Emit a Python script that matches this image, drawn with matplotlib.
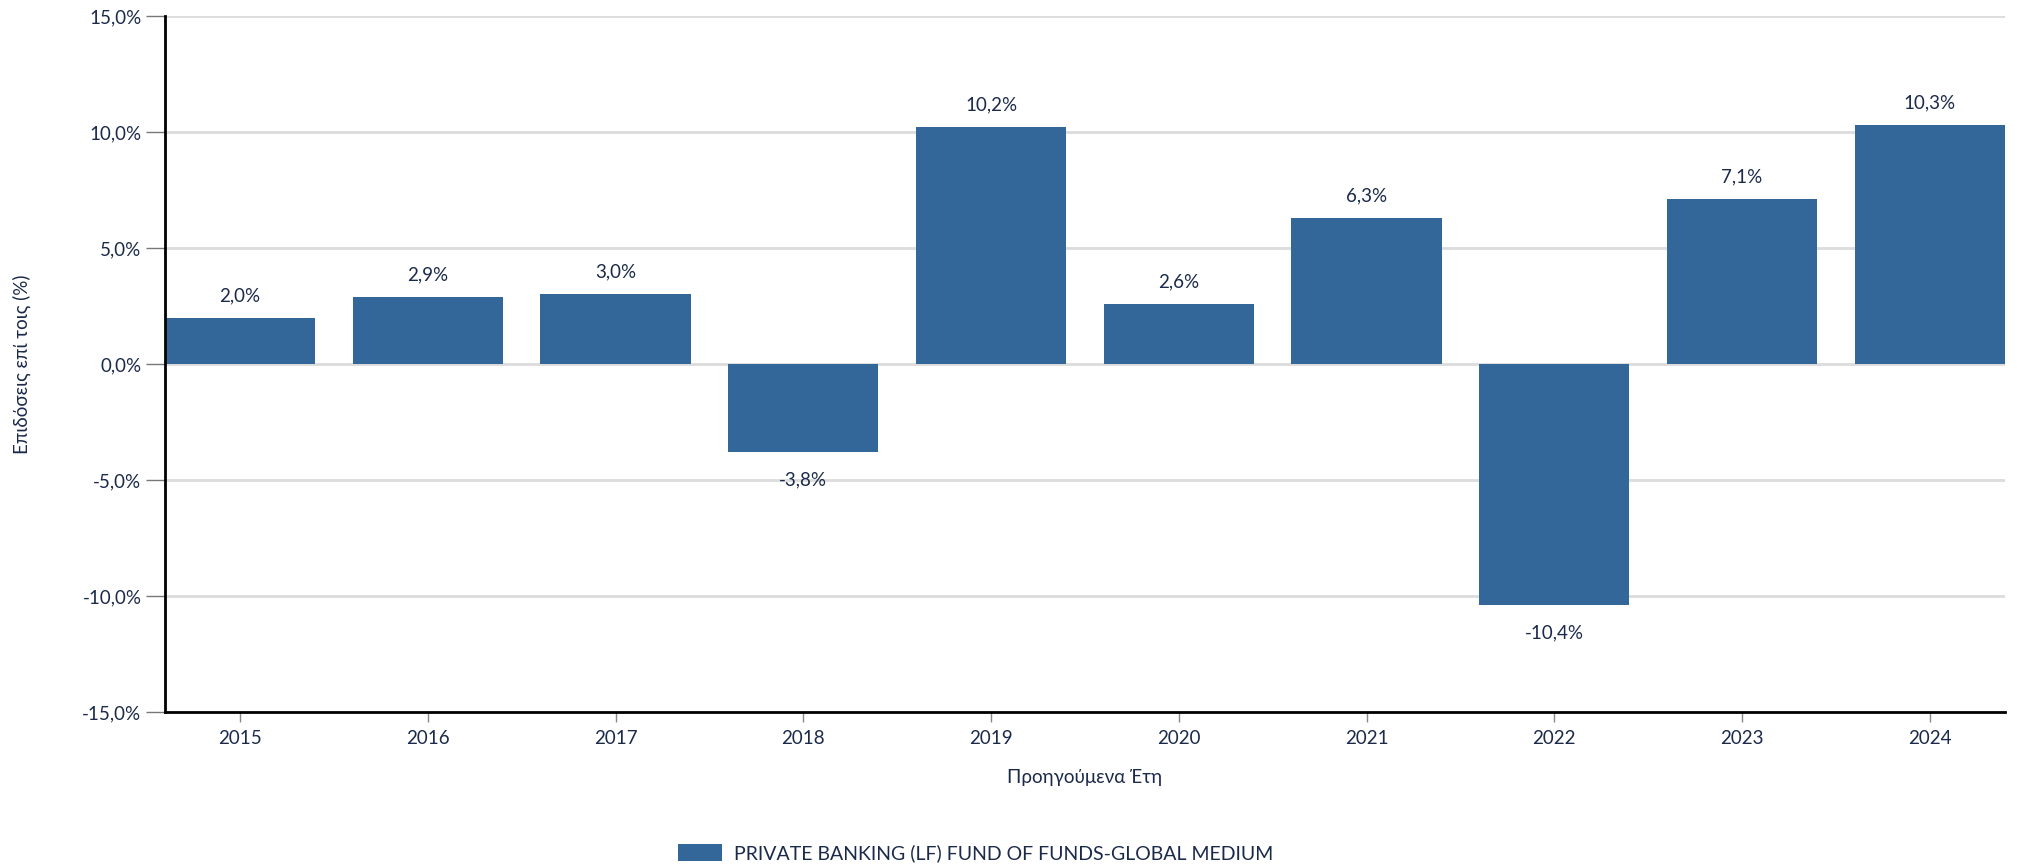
import matplotlib.pyplot as plt
import numpy as np

years = ['2015', '2016', '2017', '2018', '2019', '2020', '2021', '2022', '2023', '2024']
returns = [2.0, 2.9, 3.0, -3.8, 10.2, 2.6, 6.3, -10.4, 7.1, 10.3]
series_name = 'PRIVATE BANKING (LF) FUND OF FUNDS-GLOBAL MEDIUM'
y_ticks = [-15, -10, -5, 0, 5, 10, 15]

bar_color = '#336699'
text_color = '#1b2a4a'
grid_color = '#dcdcdc'

plt.rcParams['font.family'] = ['Lato', 'Noto Sans', 'DejaVu Sans']
fs = 13.5


def pct(v):
    return f'{v:.1f}%'.replace('.', ',')


fig = plt.figure(figsize=(20.17, 8.67), dpi=100)
ax = fig.add_axes([0.0818, 0.1788, 0.9122, 0.8027])

x = np.arange(len(years))
ax.bar(x, returns, width=0.8, color=bar_color, zorder=3, label=series_name)

for xi, v in zip(x, returns):
    off = 16 if v >= 0 else -20
    ax.annotate(pct(v), (xi, v), xytext=(0, off), textcoords='offset points',
                ha='center', va='center', fontsize=fs, color=text_color)

ax.set_xlim(-0.4, len(years) - 0.6)
ax.set_ylim(-15, 15)
ax.set_yticks(y_ticks)
ax.set_yticklabels([pct(t) for t in y_ticks])
ax.set_xticks(x)
ax.set_xticklabels(years)

ax.yaxis.grid(True, color=grid_color, linewidth=2, zorder=0)
ax.set_axisbelow(True)

for side in ['top', 'right']:
    ax.spines[side].set_visible(False)
for side in ['left', 'bottom']:
    ax.spines[side].set_color('black')
    ax.spines[side].set_linewidth(2)
    ax.spines[side].set_zorder(5)

ax.tick_params(axis='y', length=14, width=1, color='#777777', pad=3,
               labelsize=fs, labelcolor=text_color)
ax.tick_params(axis='x', length=7, width=1, color='#888888', pad=6,
               labelsize=fs, labelcolor=text_color)

fig.text(22 / 2017, 1 - 364 / 867, 'Επιδόσεις επί τοις (%)', rotation=90,
         ha='center', va='center', fontsize=fs, color=text_color)
ax.set_xlabel('Προηγούμενα Έτη', fontsize=fs, color=text_color, labelpad=16)

fig.legend(handles=ax.containers[0].patches[:1], labels=[series_name],
           loc='center left', bbox_to_anchor=(660 / 2017, 1 - 853 / 867),
           frameon=False, fontsize=14, labelcolor=text_color,
           handlelength=2.3, handleheight=1.0, handletextpad=0.6)

fig.savefig('out.png', dpi=100)
